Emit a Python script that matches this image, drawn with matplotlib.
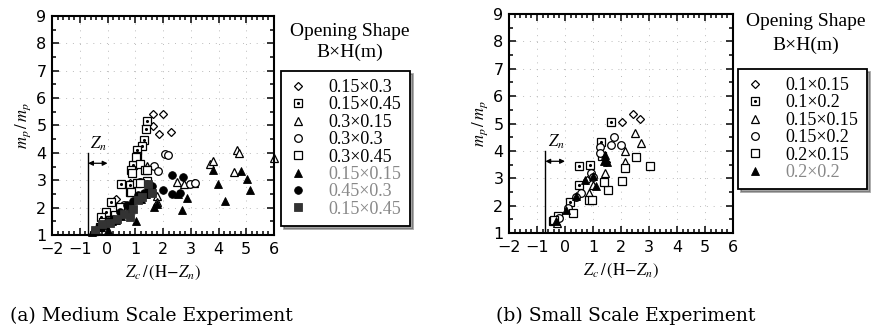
import numpy as np
import matplotlib.pyplot as plt
from matplotlib.ticker import MultipleLocator

plt.rcParams['mathtext.fontset'] = 'stix'

# ---- (a) medium scale experiment ----
a_labels = ['0.15×0.3', '0.15×0.45', '0.3×0.15', '0.3×0.3', '0.3×0.45',
            '0.15×0.15', '0.45×0.3', '0.15×0.45']

a_dia_x = [1.65, 2.0, 1.63, 1.84, 2.29, 0.3, 0.8]
a_dia_y = [5.43, 5.43, 4.97, 4.7, 4.76, 2.3, 2.9]

a_dsq_x = [1.41, 1.37, 1.31, 1.23, 1.07, 1.05, 0.9, 0.83, 0.8, 0.47, 0.14, -0.06, -0.25, 1.05, 1.41, 0.8, 1.5]
a_dsq_y = [5.17, 4.89, 4.48, 4.24, 4.1, 3.87, 3.55, 3.36, 2.81, 2.87, 2.2, 1.83, 1.66, 2.9, 2.96, 2.56, 2.75]

a_tri_x = [1.41, 2.49, 2.77, 3.69, 3.81, 4.66, 4.73, 4.54, 6.0, 1.79, 1.79, 1.59, 3.1, -0.5]
a_tri_y = [3.51, 2.94, 2.88, 3.61, 3.7, 4.12, 4.0, 3.31, 3.8, 2.41, 2.2, 2.7, 2.9, 1.15]

a_cir_x = [2.06, 2.19, 1.67, 1.83, 2.97, 3.16, 1.17, 0.6]
a_cir_y = [3.95, 3.91, 3.52, 3.34, 2.85, 2.9, 2.94, 2.1]

a_sq_x = [1.02, 1.17, 0.89, 1.35, 1.17, 0.83, 0.45, 0.26, 0.08, -0.16, -0.28, 1.41]
a_sq_y = [3.85, 3.6, 3.27, 3.39, 2.89, 2.57, 2.02, 1.72, 1.54, 1.48, 1.29, 3.36]

a_trif_x = [-0.55, -0.4, -0.25, -0.1, 0.0, 0.15, 0.3, 0.5, 0.7, 0.85, 1.02, 1.2, 1.4, 1.55, 1.69, 1.77,
            2.55, 2.67, 2.88, 3.79, 3.98, 4.25, 4.82, 5.02, 5.14]
a_trif_y = [1.1, 1.2, 1.3, 1.35, 1.17, 1.5, 1.55, 1.7, 1.85, 2.0, 1.51, 2.3, 2.5, 2.6, 2.02, 2.12,
            2.51, 1.92, 2.36, 3.36, 2.88, 2.24, 3.33, 3.06, 2.63]

a_cirf_x = [-0.3, 0.0, 0.2, 0.45, 0.7, 0.9, 1.1, 1.3, 1.5, 1.6, 1.99, 2.31, 2.34, 2.71, 2.6]
a_cirf_y = [1.3, 1.5, 1.6, 1.85, 2.1, 2.25, 2.45, 2.55, 2.7, 2.8, 2.66, 3.19, 2.51, 3.13, 2.55]

a_sqf_x = [-0.45, -0.2, 0.1, 0.35, 0.6, 0.8, 0.93, 1.11, 1.25, 1.45, 1.6]
a_sqf_y = [1.2, 1.4, 1.45, 1.6, 1.75, 1.66, 1.96, 2.27, 2.4, 2.85, 2.55]

# ---- (b) small scale experiment ----
b_labels = ['0.1×0.15', '0.1×0.2', '0.15×0.15', '0.15×0.2', '0.2×0.15', '0.2×0.2']

b_dia_x = [2.05, 2.43, 2.67, 1.45, 0.8]
b_dia_y = [5.05, 5.36, 5.18, 3.6, 2.95]

b_dsq_x = [1.65, 1.29, 0.51, 0.51, 0.18, -0.26, -0.44, 1.33, 0.9]
b_dsq_y = [5.05, 4.31, 3.43, 2.76, 2.15, 1.63, 1.43, 3.8, 3.47]

b_tri_x = [2.49, 2.73, 2.13, 2.13, 1.43, 0.87, 1.0, -0.3]
b_tri_y = [4.65, 4.28, 4.01, 3.59, 3.21, 2.46, 2.76, 1.35]

b_cir_x = [1.75, 1.66, 2.01, 1.25, 1.25, 0.93, 0.57, 0.4, 0.1, -0.2, 1.0]
b_cir_y = [4.52, 4.2, 4.2, 4.16, 3.92, 3.19, 2.48, 2.3, 1.91, 1.55, 3.05]

b_sq_x = [2.55, 3.03, 2.16, 2.04, 1.55, 1.41, 0.85, 0.28, -0.38, 0.95]
b_sq_y = [3.76, 3.43, 3.37, 2.91, 2.58, 2.88, 2.22, 1.73, 1.46, 2.22]

b_trif_x = [1.43, 1.39, 1.0, 0.7, 0.4, 0.04, -0.32, 1.12, 1.5]
b_trif_y = [3.86, 3.62, 3.07, 2.95, 2.34, 1.85, 1.43, 2.7, 3.6]

fig = plt.figure(figsize=(8.73, 3.36), dpi=100)
ax1 = fig.add_axes([0.0596, 0.3006, 0.2543, 0.6518])
ax2 = fig.add_axes([0.583, 0.3065, 0.2566, 0.6518])

ms = 5.5


def dotsq(ax, x, y):
    h1, = ax.plot(x, y, 's', mfc='white', mec='black', mew=0.9, ms=ms, ls='none', clip_on=False)
    h2, = ax.plot(x, y, '.', color='black', ms=2.5, ls='none', clip_on=False)
    return (h1, h2)


def opn(ax, x, y, m):
    h, = ax.plot(x, y, m, mfc='white', mec='black', mew=0.9, ms=ms, ls='none', clip_on=False)
    return h


def fil(ax, x, y, m, c='black'):
    h, = ax.plot(x, y, m, mfc=c, mec=c, mew=0.6, ms=ms, ls='none', clip_on=False)
    return h


def style(ax):
    ax.set_xlim(-2, 6)
    ax.set_ylim(1, 9)
    ax.xaxis.set_major_locator(MultipleLocator(1))
    ax.xaxis.set_minor_locator(MultipleLocator(0.2))
    ax.yaxis.set_major_locator(MultipleLocator(1))
    ax.yaxis.set_minor_locator(MultipleLocator(0.5))
    ax.tick_params(which='both', direction='in', top=True, right=True, width=1.1)
    ax.tick_params(which='major', length=5, labelsize=11.5)
    ax.tick_params(axis='x', which='major', pad=5)
    ax.tick_params(axis='y', which='major', pad=4)
    ax.tick_params(which='minor', length=3)
    for s in ax.spines.values():
        s.set_linewidth(1.5)
    ax.grid(True, which='major', color='#bbbbbb', ls=(0, (1, 6)), lw=0.7)
    ax.set_axisbelow(True)
    ax.set_xlabel(r'$Z_c\,/\,(\mathrm{H}\!-\!Z_n)$', fontsize=12, labelpad=5)
    ax.set_ylabel(r'$m_p\,/\,m_p$', fontsize=12, labelpad=2)
    # Z_n marker
    ax.plot([-0.7, -0.7], [1, 4], color='black', lw=1.0)
    ax.annotate('', xy=(0.0, 3.62), xytext=(-0.7, 3.62),
                arrowprops=dict(arrowstyle='<|-|>', color='black', lw=0.9,
                                mutation_scale=7, shrinkA=0, shrinkB=0))
    ax.text(-0.62, 4.15, r'$Z_n$', fontsize=12)


style(ax1)
style(ax2)

hs = [opn(ax1, a_dia_x, a_dia_y, 'D'),
      dotsq(ax1, a_dsq_x, a_dsq_y),
      opn(ax1, a_tri_x, a_tri_y, '^'),
      opn(ax1, a_cir_x, a_cir_y, 'o'),
      opn(ax1, a_sq_x, a_sq_y, 's'),
      fil(ax1, a_trif_x, a_trif_y, '^'),
      fil(ax1, a_cirf_x, a_cirf_y, 'o'),
      fil(ax1, a_sqf_x, a_sqf_y, 's', '#333333')]
hs[0].set_markersize(4.5)

hb = [opn(ax2, b_dia_x, b_dia_y, 'D'),
      dotsq(ax2, b_dsq_x, b_dsq_y),
      opn(ax2, b_tri_x, b_tri_y, '^'),
      opn(ax2, b_cir_x, b_cir_y, 'o'),
      opn(ax2, b_sq_x, b_sq_y, 's'),
      fil(ax2, b_trif_x, b_trif_y, '^')]
hb[0].set_markersize(4.5)

lkw = dict(loc='upper left', bbox_transform=fig.transFigure, frameon=True, fancybox=False,
           shadow=True, borderaxespad=0, handletextpad=1.2, handlelength=1.0,
           labelspacing=0.02, borderpad=0.45,
           prop={'family': 'Liberation Serif', 'size': 13})
leg1 = ax1.legend(hs, a_labels, bbox_to_anchor=(281 / 873, 1 - 71 / 336), **lkw)
leg2 = ax2.legend(hb, b_labels, bbox_to_anchor=(738 / 873, 1 - 69 / 336), **lkw)
for leg in (leg1, leg2):
    leg.get_frame().set_edgecolor('black')
    leg.get_frame().set_linewidth(1.3)
for t in leg1.get_texts()[5:]:
    t.set_color('#888888')
leg2.get_texts()[5].set_color('#888888')

tkw = dict(ha='center', va='center', family='Liberation Serif', fontsize=14)
fig.text(350 / 873, 1 - 32 / 336, 'Opening Shape', **tkw)
fig.text(350 / 873, 1 - 52 / 336, 'B×H(m)', **tkw)
fig.text(806 / 873, 1 - 22 / 336, 'Opening Shape', **tkw)
fig.text(806 / 873, 1 - 45 / 336, 'B×H(m)', **tkw)

ckw = dict(ha='left', va='center', family='DejaVu Serif', fontsize=13.5)
fig.text(10 / 873, 1 - 316 / 336, '(a) Medium Scale Experiment', **ckw)
fig.text(496 / 873, 1 - 316 / 336, '(b) Small Scale Experiment', **ckw)

fig.savefig('out.png', dpi=100)
